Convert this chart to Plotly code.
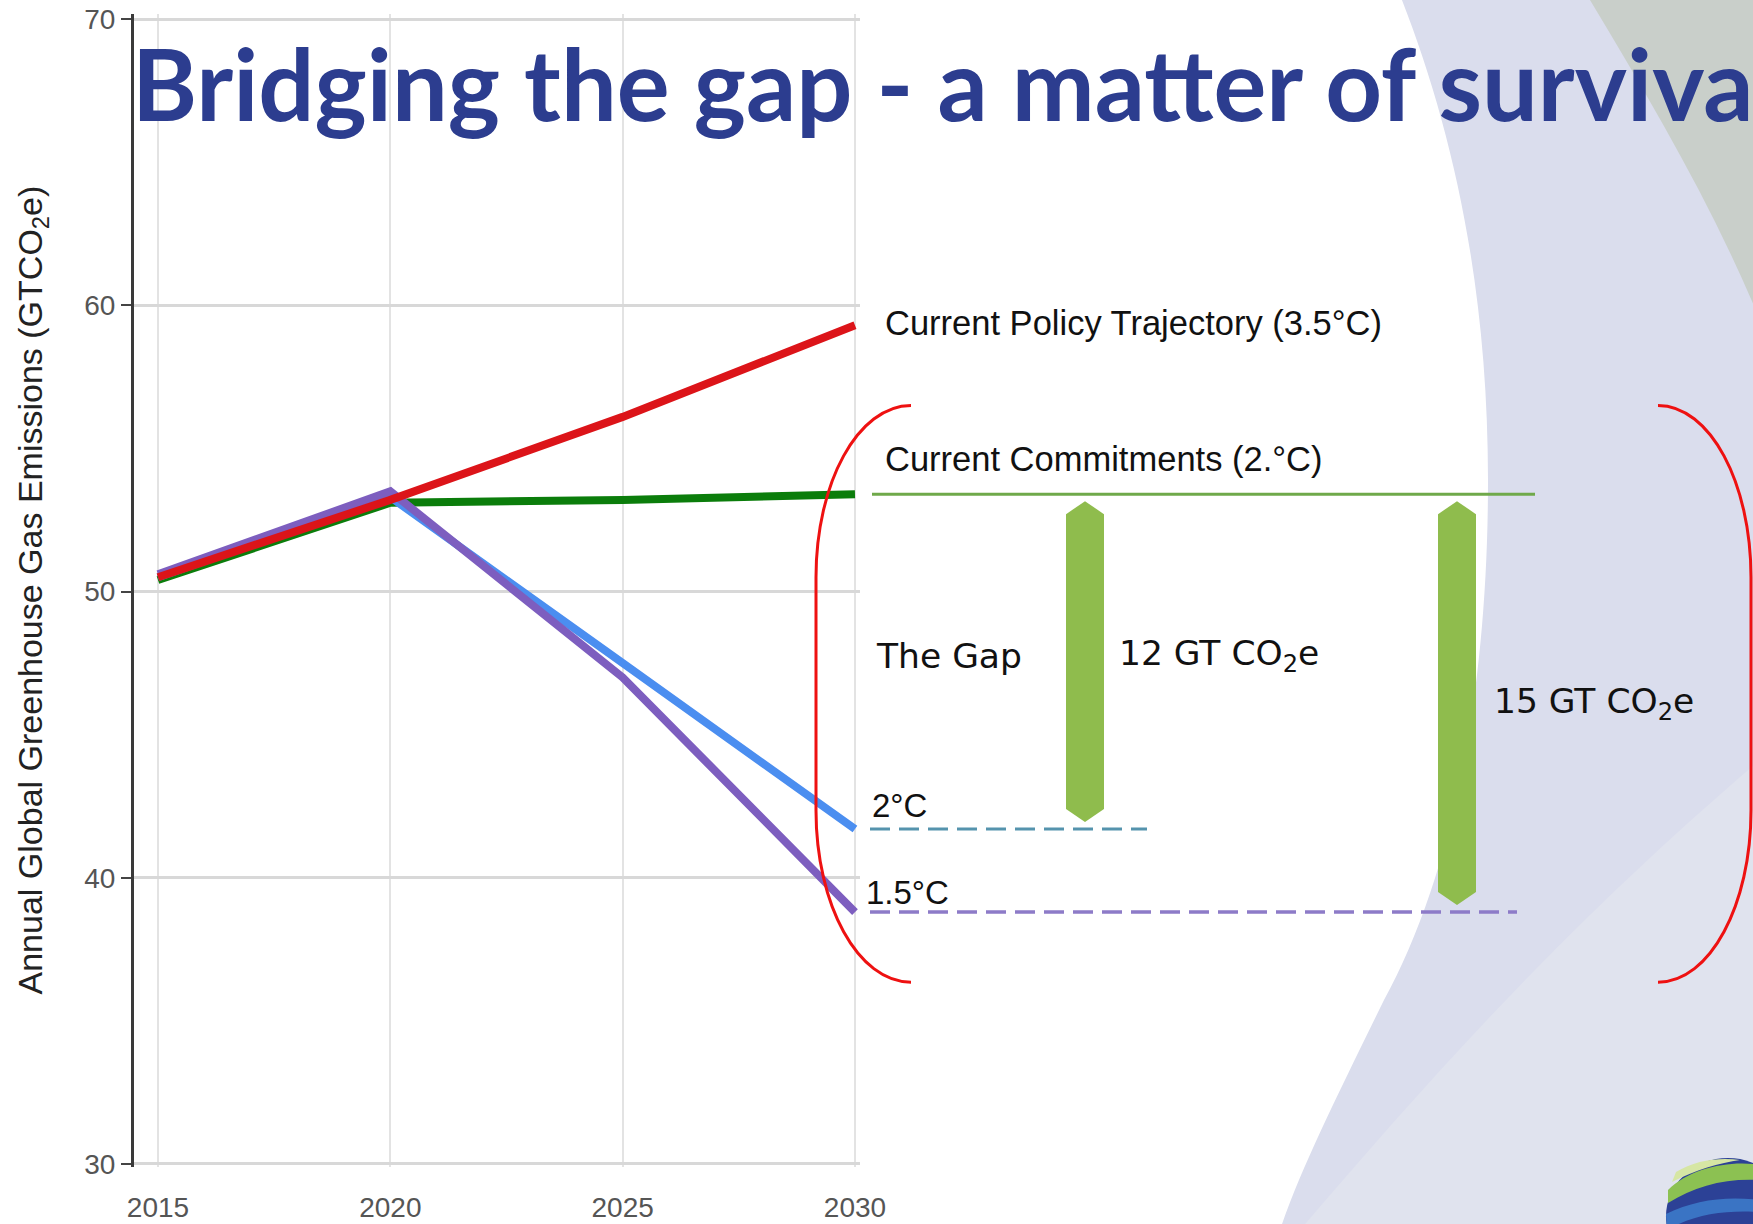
import plotly.graph_objects as go

# ---------------- data ----------------
years = [2015, 2020, 2025, 2030]
policy = [50.5, 53.2, 56.1, 59.3]        # Current Policy Trajectory (3.5°C)
commitments = [50.4, 53.1, 53.2, 53.4]   # Current Commitments
two_deg = [50.5, 53.3, 47.5, 41.7]       # 2°C pathway
one_five = [50.6, 53.5, 47.0, 38.8]      # 1.5°C pathway

y_ticks = [30, 40, 50, 60, 70]
x_ticks = [2015, 2020, 2025, 2030]

gap_labels = ["12 GT CO<sub>2</sub>e", "15 GT CO<sub>2</sub>e"]

# ---------------- layout geometry (screenshot pixels) ----------------
W, H = 1753, 1224
PLOT_L, PLOT_T, PLOT_B = 134, 14, 1167
ML, MT, MB, MR = PLOT_L, PLOT_T, H - PLOT_B, 0
PW = W - ML - MR
PH = H - MT - MB
Y_RANGE = [29.895, 70.175]
X_RANGE = [2014.484, 2030.108]
X1_END = 860
d1 = (X1_END - PLOT_L) / PW


def px(xs):  # pixel x -> paper
    return (xs - PLOT_L) / PW


def py(ys):  # pixel y -> paper
    return (PLOT_B - ys) / PH


PX_PER_UNIT = PH / (Y_RANGE[1] - Y_RANGE[0])

RED = "#dc1419"
GREEN = "#0b7d0b"
BLUE = "#4b8ef0"
PURPLE = "#7d5ebf"
ARROW_GREEN = "#8fbc4d"
LINE_GREEN = "#6fa94a"
DASH_BLUE = "#5593ad"
DASH_PURPLE = "#8d7bc8"

fig = go.Figure()

shapes = []


def path_px(cmds):
    out = []
    for tok in cmds:
        if isinstance(tok, str):
            out.append(tok)
        else:
            out.append(f"{px(tok[0]):.5f},{py(tok[1]):.5f}")
    return " ".join(out)


# background decoration (slide design)
shapes.append(dict(type="path", xref="paper", yref="paper", layer="below",
                   path=path_px(["M", (1398, -10), "C", (1450, 120), (1488, 280), (1488, 480),
                                 "C", (1488, 700), (1450, 880), (1384, 1000),
                                 "C", (1340, 1090), (1300, 1170), (1280, 1230),
                                 "L", (1760, 1230), "L", (1760, -10), "Z"]),
                   fillcolor="#dadded", line=dict(width=0)))
shapes.append(dict(type="path", xref="paper", yref="paper", layer="below",
                   path=path_px(["M", (1300, 1230), "C", (1420, 1090), (1560, 930), (1760, 760),
                                 "L", (1760, 1230), "Z"]),
                   fillcolor="#e0e3ee", line=dict(width=0)))
shapes.append(dict(type="path", xref="paper", yref="paper", layer="below",
                   path=path_px(["M", (1584, -10), "C", (1650, 100), (1710, 200), (1760, 320),
                                 "L", (1760, -10), "Z"]),
                   fillcolor="#c9cfca", line=dict(width=0)))
# small logo bottom right
shapes.append(dict(type="circle", xref="paper", yref="paper", layer="above",
                   x0=px(1666), x1=px(1790), y0=py(1275), y1=py(1158),
                   fillcolor="#2c4196", line=dict(width=0)))
shapes.append(dict(type="path", xref="paper", yref="paper", layer="above",
                   path=path_px(["M", (1668, 1190), "C", (1690, 1168), (1730, 1160), (1760, 1165),
                                 "L", (1760, 1180), "C", (1725, 1178), (1695, 1186), (1668, 1203), "Z"]),
                   fillcolor="#8cc152", line=dict(width=0)))
shapes.append(dict(type="path", xref="paper", yref="paper", layer="above",
                   path=path_px(["M", (1676, 1172), "C", (1695, 1160), (1720, 1157), (1740, 1160),
                                 "C", (1720, 1163), (1695, 1170), (1672, 1182), "Z"]),
                   fillcolor="#d6e6a4", line=dict(width=0)))
shapes.append(dict(type="path", xref="paper", yref="paper", layer="above",
                   path=path_px(["M", (1666, 1214), "C", (1695, 1200), (1725, 1196), (1760, 1200),
                                 "L", (1760, 1212), "C", (1725, 1210), (1695, 1214), (1667, 1230), "Z"]),
                   fillcolor="#3a74c4", line=dict(width=0)))

# ---------------- series ----------------
for vals, col in [(commitments, GREEN), (two_deg, BLUE), (one_five, PURPLE), (policy, RED)]:
    fig.add_trace(go.Scatter(x=years, y=vals, mode="lines", xaxis="x", yaxis="y",
                             line=dict(color=col, width=8), showlegend=False,
                             hoverinfo="skip"))

commit_level = commitments[-1]
two_level = two_deg[-1]
one_five_level = one_five[-1]

# right-side annotation layer (x2 units = pixels)
fig.add_trace(go.Scatter(x=[872, 1535], y=[commit_level, commit_level], mode="lines",
                         xaxis="x2", yaxis="y2", line=dict(color=LINE_GREEN, width=3),
                         showlegend=False, hoverinfo="skip"))
fig.add_trace(go.Scatter(x=[870, 1147], y=[two_level, two_level], mode="lines",
                         xaxis="x2", yaxis="y2",
                         line=dict(color=DASH_BLUE, width=3, dash="20px,9px"),
                         showlegend=False, hoverinfo="skip"))
fig.add_trace(go.Scatter(x=[870, 1517], y=[one_five_level, one_five_level], mode="lines",
                         xaxis="x2", yaxis="y2",
                         line=dict(color=DASH_PURPLE, width=3.5, dash="20px,9px"),
                         showlegend=False, hoverinfo="skip"))

gap_tip = 7 / PX_PER_UNIT
head = 13 / PX_PER_UNIT
for cx, lower in [(1085, two_level), (1457, one_five_level)]:
    top = commit_level - gap_tip
    bot = lower + gap_tip
    hw = 19
    fig.add_trace(go.Scatter(
        x=[cx, cx + hw, cx + hw, cx, cx - hw, cx - hw, cx],
        y=[top, top - head, bot + head, bot, bot + head, top - head, top],
        mode="lines", fill="toself", fillcolor=ARROW_GREEN, line=dict(width=0),
        xaxis="x2", yaxis="y2", showlegend=False, hoverinfo="skip"))

# brackets
b_top, b_bot = 56.5, 36.35
ry = 6.0
shapes.append(dict(type="path", xref="x2", yref="y2", layer="above",
                   path=(f"M 911,{b_top} C 858,{b_top} 816,{b_top - 0.45 * ry} 816,{b_top - ry} "
                         f"L 816,{b_bot + ry} C 816,{b_bot + 0.45 * ry} 858,{b_bot} 911,{b_bot}"),
                   line=dict(color="#ee1111", width=3)))
shapes.append(dict(type="path", xref="x2", yref="y2", layer="above",
                   path=(f"M 1658,{b_top} C 1710,{b_top} 1751,{b_top - 0.45 * ry} 1751,{b_top - ry} "
                         f"L 1751,{b_bot + ry} C 1751,{b_bot + 0.45 * ry} 1710,{b_bot} 1658,{b_bot}"),
                   line=dict(color="#ee1111", width=3)))

ARIAL = "Liberation Sans, Arial, sans-serif"
DEJAVU = "DejaVu Sans, sans-serif"
annotations = []


def ann(text, x, y, family, size, yshift=0, color="#111"):
    annotations.append(dict(text=text, x=x, y=y, xref="x2", yref="y2", xanchor="left",
                            yanchor="middle", showarrow=False, yshift=yshift,
                            font=dict(family=family, size=size, color=color)))


ann("Current Policy Trajectory (3.5°C)", 883, policy[-1], ARIAL, 34.5, yshift=2)
ann("Current Commitments (2.°C)", 883, commit_level, ARIAL, 34.5, yshift=35)
mid12 = (commit_level + two_level) / 2
mid15 = (commit_level + one_five_level) / 2
ann("The Gap", 874, mid12, DEJAVU, 34.5, yshift=6)
ann(gap_labels[0], 1117, mid12, DEJAVU, 34.5, yshift=6)
ann(gap_labels[1], 1492, mid15, DEJAVU, 34.5, yshift=0)
ann("2°C", 870, two_level, ARIAL, 33, yshift=24)
ann("1.5°C", 864, one_five_level, ARIAL, 33, yshift=20)

# y axis title
annotations.append(dict(text="Annual Global Greenhouse Gas Emissions (GTCO<sub>2</sub>e)",
                        x=0, y=0.5, xref="paper", yref="paper", xshift=32 - PLOT_L,
                        xanchor="center", yanchor="middle", textangle=-90, showarrow=False,
                        font=dict(family=ARIAL, size=34, color="#222")))

# slide title
annotations.append(dict(text="Bridging the gap - a matter of survival",
                        x=px(130), y=py(82), xref="paper", yref="paper",
                        xanchor="left", yanchor="middle", showarrow=False,
                        font=dict(family="Lato", size=99, color="#2c3d8f", weight="bold")))

fig.update_layout(
    width=W, height=H, autosize=False,
    margin=dict(l=ML, r=MR, t=MT, b=MB, pad=0),
    paper_bgcolor="white", plot_bgcolor="rgba(0,0,0,0)",
    showlegend=False,
    xaxis=dict(domain=[0, d1], range=X_RANGE, tickvals=x_ticks, showgrid=True,
               gridcolor="#e3e3e3", gridwidth=2, zeroline=False, showline=False,
               ticks="outside", ticklen=15, tickcolor="rgba(0,0,0,0)", automargin=False,
               tickfont=dict(family=ARIAL, size=28, color="#555"), anchor="y"),
    yaxis=dict(domain=[0, 1], range=Y_RANGE, tickvals=y_ticks, showgrid=True,
               gridcolor="#d8d8d8", gridwidth=2.5, zeroline=False, showline=True,
               linecolor="#3a3a3a", linewidth=3, ticks="outside", ticklen=10,
               tickwidth=2, tickcolor="#444", automargin=False, ticklabeloverflow="allow",
               tickfont=dict(family=ARIAL, size=28, color="#555"), anchor="x"),
    xaxis2=dict(domain=[0, 1], range=[PLOT_L, W], visible=False, anchor="y2"),
    yaxis2=dict(domain=[0, 1], range=Y_RANGE, visible=False, anchor="x2"),
    shapes=shapes,
    annotations=annotations,
)

fig.write_html(
    "out.html",
    config={"displayModeBar": False},
    post_script=("document.body.style.margin='0';"
                 "document.documentElement.style.overflow='hidden';"
                 "document.body.style.overflow='hidden';"),
)
